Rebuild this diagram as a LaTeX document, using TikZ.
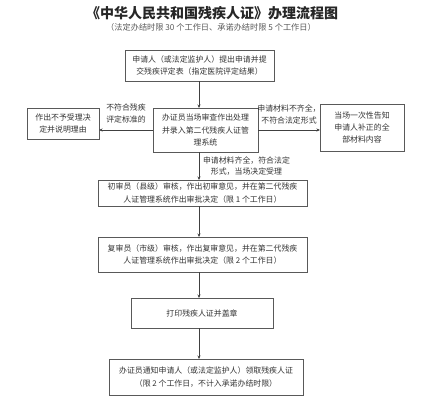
\documentclass[tikz,border=0pt]{standalone}
\usepackage{fontspec}
\newfontfamily\cjk{Noto Sans CJK SC}
\usetikzlibrary{arrows.meta}

\begin{document}
\begin{tikzpicture}[x=1pt,y=-1pt,inner sep=0pt,outer sep=0pt,
stepbox/.style={draw=black!65,rectangle,line width=0.8pt,align=center,text=black!80,font={\cjk\fontsize{7.9}{12.3}\selectfont}},
note/.style={align=center,text=black!80,font={\cjk\fontsize{7.9}{11.5}\selectfont}},
flow/.style={-{Stealth[length=3.5pt,width=3pt]},draw=black!75,line width=0.6pt}]

\useasboundingbox (0,0) rectangle (422,400);
\draw (212,13) node[font={\cjk\bfseries\fontsize{14}{16}\selectfont},text=black!85] (title) {《中华人民共和国残疾人证》办理流程图};
\draw (211,27) node[font={\cjk\fontsize{8.2}{9}\selectfont},text=black!65] (subtitle) {（法定办结时限 30 个工作日、承诺办结时限 5 个工作日）};

\draw (199.5,65.5) node[stepbox,minimum width=149pt,minimum height=31pt] (apply) {申请人（或法定监护人）提出申请并提\\交残疾评定表（指定医院评定结果）};
\draw (205.5,130) node[stepbox,minimum width=105pt,minimum height=44pt] (check) {办证员当场审查作出处理\\并录入第二代残疾人证管\\理系统};
\draw (63,123.5) node[stepbox,minimum width=72pt,minimum height=31pt] (reject) {作出不予受理决\\定并说明理由};
\draw (362,127.5) node[stepbox,minimum width=84pt,minimum height=47pt] (inform) {当场一次性告知\\申请人补正的全\\部材料内容};
\draw (202.5,193) node[stepbox,minimum width=209pt,minimum height=26pt] (first) {初审员（县级）审核，作出初审意见，并在第二代残疾\\人证管理系统作出审批决定（限 1 个工作日）};
\draw (202.5,254.5) node[stepbox,minimum width=209pt,minimum height=35pt] (second) {复审员（市级）审核，作出复审意见，并在第二代残疾\\人证管理系统作出审批决定（限 2 个工作日）};
\draw (202,313) node[stepbox,minimum width=142pt,minimum height=30pt] (print) {打印残疾人证并盖章};
\draw (206,377) node[stepbox,minimum width=194pt,minimum height=36pt] (notify) {办证员通知申请人（或法定监护人）领取残疾人证\\（限 2 个工作日，不计入承诺办结时限）};

\coordinate (axis) at (199,0);
\draw[flow] (apply.south -| axis) -- (check.north -| axis);
\draw[flow] (check.west) -- (check.west -| reject.east) node[note,pos=0.5,above=7pt] {不符合残疾\\评定标准的};
\draw[flow] (check.east) -- (check.east -| inform.west) node[note,pos=0.5,above=6pt] {申请材料不齐全，\\不符合法定形式};
\draw[flow] (check.south -| axis) -- (first.north -| axis) node[note,pos=0.5,right=4pt] {申请材料齐全，符合法定\\形式，当场决定受理};
\draw[flow] (first.south -| axis) -- (second.north -| axis);
\draw[flow] (second.south -| axis) -- (print.north -| axis);
\draw[flow] (print.south -| axis) -- (notify.north -| axis);
\end{tikzpicture}
\end{document}
